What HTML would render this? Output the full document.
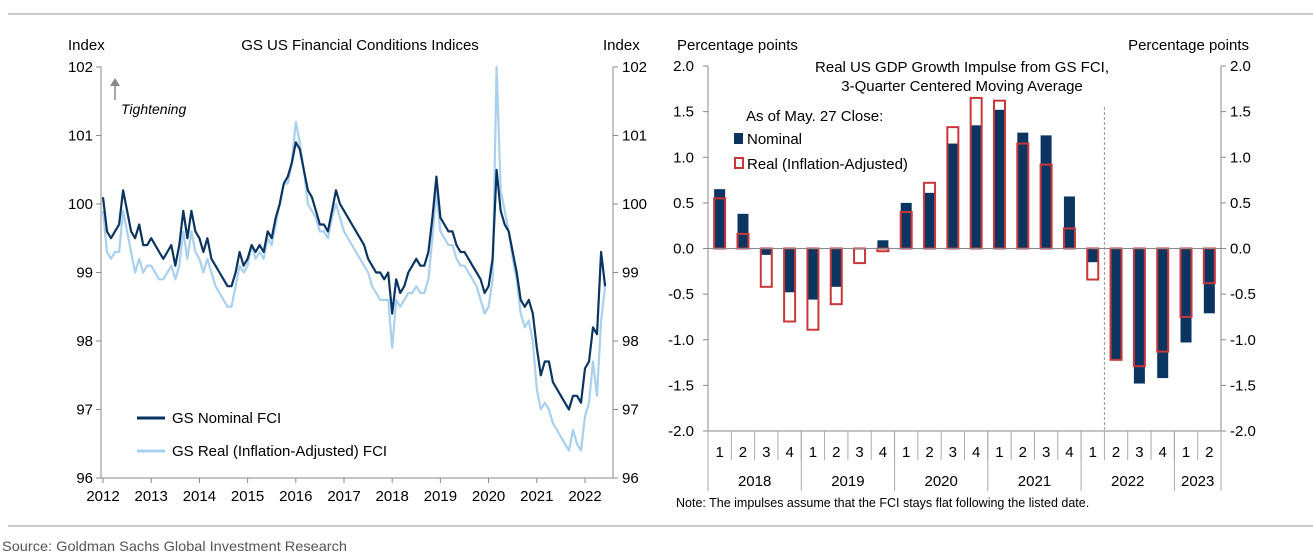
<!DOCTYPE html>
<html><head><meta charset="utf-8"><style>
body{margin:0;background:#fff;width:1313px;height:552px;overflow:hidden;font-family:"Liberation Sans",sans-serif;}
svg{display:block}
</style></head><body>
<svg id="s" width="1313" height="552" font-family="Liberation Sans, sans-serif" font-size="15" fill="#000">
<line x1="8" y1="14" x2="1313" y2="14" stroke="#aaa" stroke-width="1.2"/>
<line x1="8" y1="526" x2="1313" y2="526" stroke="#aaa" stroke-width="1.2"/>
<text x="2" y="551" font-size="14" fill="#555" textLength="345" lengthAdjust="spacingAndGlyphs">Source: Goldman Sachs Global Investment Research</text>
<g id="left">
<text x="68" y="50">Index</text>
<text x="360" y="50" text-anchor="middle">GS US Financial Conditions Indices</text>
<text x="603" y="50">Index</text>
<line x1="115" y1="100" x2="115" y2="84" stroke="#888" stroke-width="1.5"/>
<polygon points="110,86 120,86 115,78" fill="#888"/>
<text x="121" y="114" font-style="italic" font-size="14">Tightening</text>
<line x1="137" y1="418" x2="165" y2="418" stroke="#0b3561" stroke-width="3"/>
<text x="172" y="423">GS Nominal FCI</text>
<line x1="137" y1="451" x2="165" y2="451" stroke="#a9d0ee" stroke-width="3"/>
<text x="172" y="456">GS Real (Inflation-Adjusted) FCI</text>
</g>
<g id="right">
<text x="677" y="50">Percentage points</text>
<text x="1249" y="50" text-anchor="end">Percentage points</text>
<text x="962" y="72" text-anchor="middle">Real US GDP Growth Impulse from GS FCI,</text>
<text x="962" y="91" text-anchor="middle">3-Quarter Centered Moving Average</text>
<text x="746" y="121">As of May. 27 Close:</text>
<rect x="734" y="133" width="9" height="11" fill="#0b3561"/>
<text x="747" y="144">Nominal</text>
<rect x="735" y="158" width="8" height="10" fill="none" stroke="#c8373b" stroke-width="2"/>
<text x="747" y="169">Real (Inflation-Adjusted)</text>
<text x="676" y="507" font-size="12.5">Note: The impulses assume that the FCI stays flat following the listed date.</text>
</g>
</svg>
<script>
const years=[2012,2013,2014,2015,2016,2017,2018,2019,2020,2021,2022];
const fciTicks=[96,97,98,99,100,101,102];
const nominalFCI=[100.1,99.6,99.5,99.6,99.7,100.2,99.9,99.6,99.5,99.7,99.4,99.4,
99.5,99.4,99.3,99.2,99.3,99.4,99.1,99.4,99.9,99.5,99.9,99.6,
99.5,99.3,99.5,99.2,99.1,99.0,98.9,98.8,98.8,99.0,99.3,99.1,
99.2,99.4,99.3,99.4,99.3,99.6,99.5,99.8,100.0,100.3,100.4,100.6,
100.9,100.8,100.5,100.2,100.1,99.9,99.7,99.7,99.6,99.9,100.2,100.0,
99.9,99.8,99.7,99.6,99.5,99.4,99.2,99.1,99.0,99.0,98.9,99.0,
98.4,98.9,98.7,98.8,99.0,99.1,99.2,99.1,99.1,99.3,99.8,100.4,
99.8,99.7,99.6,99.6,99.4,99.3,99.3,99.2,99.1,99.0,98.9,98.7,
98.8,99.2,100.5,99.9,99.7,99.6,99.3,99.0,98.6,98.5,98.6,98.4,
97.9,97.5,97.7,97.7,97.4,97.3,97.2,97.1,97.0,97.2,97.2,97.1,
97.6,97.7,98.2,98.1,99.3,98.8];
const realFCI=[99.9,99.3,99.2,99.3,99.3,99.9,99.6,99.3,99.0,99.2,99.0,99.1,
99.1,99.0,98.9,98.9,99.0,99.1,98.9,99.1,99.6,99.2,99.6,99.3,
99.2,99.0,99.2,99.0,98.8,98.7,98.6,98.5,98.5,98.8,99.1,99.0,
99.1,99.4,99.2,99.3,99.2,99.5,99.4,99.7,100.0,100.3,100.3,100.6,
101.2,100.9,100.5,100.0,99.9,99.8,99.6,99.6,99.5,99.8,100.0,99.8,
99.6,99.5,99.4,99.3,99.2,99.1,99.0,98.8,98.7,98.6,98.6,98.6,
97.9,98.6,98.5,98.6,98.7,98.7,98.8,98.7,98.7,98.9,99.5,100.2,
99.6,99.5,99.4,99.4,99.2,99.1,99.1,99.0,98.9,98.8,98.6,98.4,
98.5,98.9,102.0,100.2,99.9,99.6,99.2,98.9,98.4,98.2,98.3,98.0,
97.3,97.0,97.1,97.0,96.8,96.7,96.6,96.5,96.4,96.7,96.5,96.4,
96.9,97.1,97.7,97.2,98.3,98.8];
const quarters=["1","2","3","4","1","2","3","4","1","2","3","4","1","2","3","4","1","2","3","4","1","2"];
const yearGroups=["2018","2019","2020","2021","2022","2023"];
const yearSpans=[4,4,4,4,4,2];
const nominalImpulse=[0.65,0.38,-0.07,-0.48,-0.56,-0.42,0.0,0.09,0.50,0.61,1.15,1.35,1.52,1.27,1.24,0.57,-0.15,-1.22,-1.48,-1.42,-1.03,-0.71];
const realImpulse=[0.55,0.16,-0.42,-0.80,-0.89,-0.61,-0.16,-0.03,0.40,0.72,1.33,1.65,1.62,1.15,0.92,0.22,-0.34,-1.22,-1.29,-1.13,-0.75,-0.38];
const impulseTicks=[-2.0,-1.5,-1.0,-0.5,0.0,0.5,1.0,1.5,2.0];

const NS="http://www.w3.org/2000/svg";
function mk(tag,attrs,parent,txt){const e=document.createElementNS(NS,tag);for(const k in attrs)e.setAttribute(k,attrs[k]);if(txt!==undefined)e.textContent=txt;parent.appendChild(e);return e;}
const L=document.getElementById('left'),R=document.getElementById('right');
// left chart
const lx0=101,lx1=613,ly0=67,ly1=478;
const xT=t=>103+(t-2012)*48.2;
const yF=v=>ly1-(v-96)/6*(ly1-ly0);
let a=mk('line',{x1:lx0,y1:ly0,x2:lx0,y2:ly1,stroke:'#888'},L);


a=mk('line',{x1:lx1,y1:ly0,x2:lx1,y2:ly1,stroke:'#888'},L);


a=mk('line',{x1:lx0,y1:ly1,x2:lx1,y2:ly1,stroke:'#888'},L);


fciTicks.forEach(v=>{const y=yF(v);
 mk('line',{x1:lx0-5,y1:y,x2:lx0,y2:y,stroke:'#888'},L);
 mk('line',{x1:lx1,y1:y,x2:lx1+5,y2:y,stroke:'#888'},L);
 let t=mk('text',{x:lx0-8,y:y+5,'text-anchor':'end'},L,String(v));
 
 
 t=mk('text',{x:lx1+9,y:y+5},L,String(v));
 
 });
years.forEach(yr=>{const x=xT(yr);mk('line',{x1:x,y1:ly1,x2:x,y2:ly1+5,stroke:'#888'},L);
 const t=mk('text',{x:x,y:ly1+23,'text-anchor':'middle'},L,String(yr));
 
 });
function line(data,col,w,name){const d=data.map((v,i)=>(i?'L':'M')+xT(2012+i/12).toFixed(1)+','+yF(v).toFixed(1)).join('');
 const p=mk('path',{d:d,fill:'none',stroke:col,'stroke-width':w,'stroke-linejoin':'round'},L);
 
 }
line(realFCI,'#a9d0ee',2.2,'real-fci-line');
line(nominalFCI,'#0b3561',2.2,'nominal-fci-line');
// right chart
const rx0=708,rx1=1221,ry0=66,ry1=431;
const cw=(rx1-rx0)/quarters.length;
const yI=v=>ry1-(v+2)/4*(ry1-ry0);
a=mk('line',{x1:rx0,y1:ry0,x2:rx0,y2:ry1,stroke:'#888'},R);


a=mk('line',{x1:rx1,y1:ry0,x2:rx1,y2:ry1,stroke:'#888'},R);


a=mk('line',{x1:rx0,y1:ry1,x2:rx1,y2:ry1,stroke:'#888'},R);


impulseTicks.forEach(v=>{const y=yI(v);const s=v.toFixed(1);
 mk('line',{x1:rx0-5,y1:y,x2:rx0,y2:y,stroke:'#888'},R);
 mk('line',{x1:rx1,y1:y,x2:rx1+5,y2:y,stroke:'#888'},R);
 let t=mk('text',{x:rx0-14,y:y+5,'text-anchor':'end'},R,s);
 
 
 t=mk('text',{x:rx1+9,y:y+5},R,s);
 
 });
a=mk('line',{x1:rx0+cw*16.5+cw*0.5,y1:107,x2:rx0+cw*17,y2:ry1,stroke:'#999','stroke-dasharray':'3,2'},R);


const y0=yI(0);
nominalImpulse.forEach((v,i)=>{const cx=rx0+cw*(i+0.5);const y=yI(v);
 const b=mk('rect',{x:cx-5.5,y:Math.min(y,y0),width:11,height:Math.abs(y-y0),fill:'#0b3561'},R);
 
 });
realImpulse.forEach((v,i)=>{const cx=rx0+cw*(i+0.5);const y=yI(v);
 const b=mk('rect',{x:cx-5.5,y:Math.min(y,y0),width:11,height:Math.abs(y-y0),fill:'none',stroke:'#c8373b','stroke-width':2},R);
 
 });
a=mk('line',{x1:rx0,y1:y0,x2:rx1,y2:y0,stroke:'#888'},R);


quarters.forEach((q,i)=>{const x=rx0+cw*i;
 mk('line',{x1:x,y1:ry1,x2:x,y2:460,stroke:'#aaa'},R);
 const t=mk('text',{x:x+cw/2,y:457,'text-anchor':'middle'},R,q);
 
 });
let k=0;
yearGroups.forEach((g,j)=>{const xa=rx0+cw*k;const xb=rx0+cw*(k+yearSpans[j]);
 mk('line',{x1:xa,y1:ry1,x2:xa,y2:491,stroke:'#aaa'},R);
 const t=mk('text',{x:(xa+xb)/2,y:486,'text-anchor':'middle'},R,g);
 
 
 k+=yearSpans[j];});
mk('line',{x1:rx1,y1:ry1,x2:rx1,y2:491,stroke:'#aaa'},R);
</script>
</body></html>
